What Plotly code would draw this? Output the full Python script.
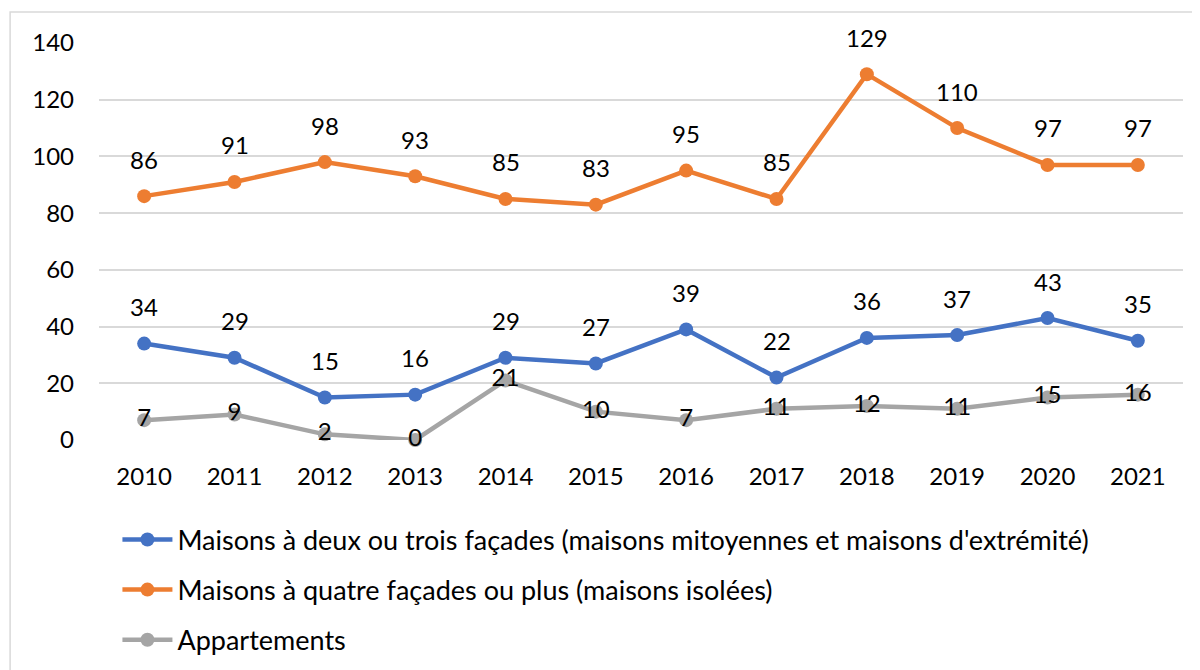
import plotly.graph_objects as go

years = ["2010", "2011", "2012", "2013", "2014", "2015", "2016", "2017", "2018", "2019", "2020", "2021"]
mitoyennes = [34, 29, 15, 16, 29, 27, 39, 22, 36, 37, 43, 35]
isolees = [86, 91, 98, 93, 85, 83, 95, 85, 129, 110, 97, 97]
appartements = [7, 9, 2, 0, 21, 10, 7, 11, 12, 11, 15, 16]
names = [
    "Maisons à deux ou trois façades (maisons mitoyennes et maisons d'extrémité)",
    "Maisons à quatre façades ou plus (maisons isolées)",
    "Appartements",
]
colors = ["#4472C4", "#ED7D31", "#A5A5A5"]
y_ticks = [0, 20, 40, 60, 80, 100, 120, 140]

FONT = "Lato, Calibri, 'Liberation Sans', sans-serif"
FS = 24
FS_LEG = 27

fig = go.Figure()
for i, (vals, name, col) in enumerate(zip([mitoyennes, isolees, appartements], names, colors)):
    is_app = i == 2
    fig.add_trace(go.Scatter(
        x=years, y=vals, name=name, mode="lines+markers+text" if is_app else "lines+markers",
        line=dict(color=col, width=4.5),
        marker=dict(color=col, size=14),
        text=[str(v) for v in vals] if is_app else None,
        textposition="middle center",
        textfont=dict(family=FONT, size=FS, color="#000000"),
        legendgroup=f"g{i}",
        cliponaxis=False,
    ))
    if not is_app:
        for k, v in enumerate(vals):
            fig.add_annotation(x=k, y=v, xref="x", yref="y", text=str(v), showarrow=False, yshift=37,
                               font=dict(family=FONT, size=FS, color="#000000"))

fig.add_shape(type="rect", xref="paper", yref="paper", x0=-0.082, x1=1.05, y0=-0.7, y1=1.078,
              line=dict(color="#D9D9D9", width=1.5), fillcolor="rgba(0,0,0,0)", layer="below")

fig.update_layout(
    width=1200, height=670,
    margin=dict(l=91, r=25, t=35, b=238, autoexpand=False),
    paper_bgcolor="white", plot_bgcolor="white",
    font=dict(family=FONT, size=FS, color="#000000"),
    showlegend=True,
    legend=dict(orientation="v", x=0.017, xanchor="left", y=-0.19, yanchor="top",
                tracegroupgap=12, font=dict(family=FONT, size=FS_LEG, color="#000000"),
                itemwidth=50, bgcolor="rgba(0,0,0,0)"),
    xaxis=dict(type="category", range=[-0.5, 11.5], showgrid=False, zeroline=False, automargin=False,
               showline=False, ticks="", tickfont=dict(size=FS), ticklabelstandoff=20),
    yaxis=dict(range=[0, 140], tickvals=y_ticks, showgrid=True, gridcolor="#D9D9D9", gridwidth=1.5,
               automargin=False, zeroline=False, showline=False, ticks="", tickfont=dict(size=FS),
               ticklabelstandoff=24),
)

fig.write_html("out.html")
